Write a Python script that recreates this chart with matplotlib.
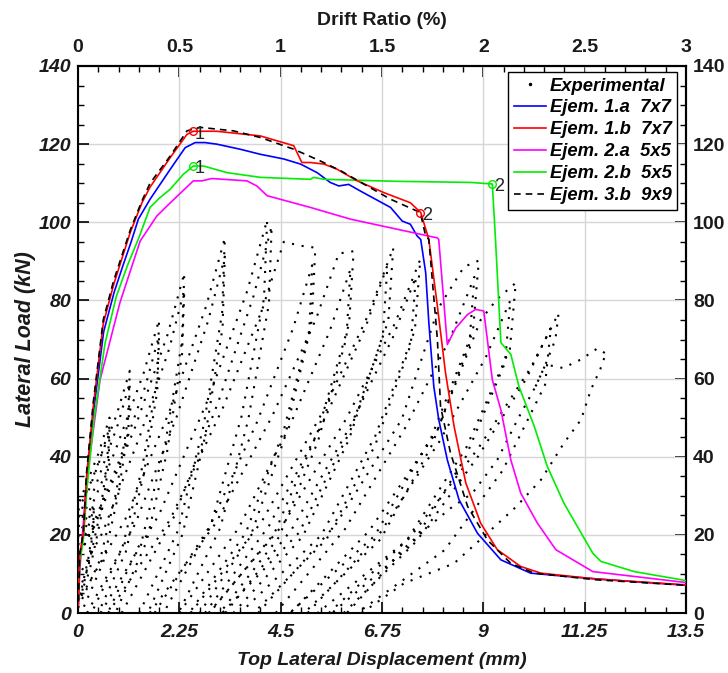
import numpy as np
import matplotlib
matplotlib.use("Agg")
import matplotlib.pyplot as plt
from matplotlib.ticker import MultipleLocator, FixedLocator
from matplotlib.lines import Line2D

nan = np.nan

# ---------------- numerical curves (displacement mm, load kN) ----------------
ej1a_x = [0, 0.04, 0.12, 0.2, 0.35, 0.57, 0.8, 1.0, 1.18, 1.34, 1.6, 2.05, 2.38, 2.6, 2.82, 3.08,
          3.6, 4.05, 4.57, 4.94, 5.31, 5.6, 5.79, 6.01, 6.27, 6.94, 7.2, 7.38, 7.53, 7.61, 7.72,
          7.79, 7.9, 8.01, 8.2, 8.46, 8.87, 9.39, 10.05, 11.0, 12.0, 13.5]
ej1a_y = [0, 14, 20, 34, 52, 72, 82, 89, 95, 100.8, 105.9, 113.6, 119.1, 120.4, 120.4, 120,
          118.7, 117.4, 116.2, 114.9, 112.7, 110.2, 109.3, 109.7, 108, 103.8, 100.3, 99.5, 96.5, 95.6, 87.1,
          74.3, 58, 49.5, 39.2, 29, 20.4, 13.6, 10.2, 9.2, 8.3, 7.1]

ej1b_x = [0, 0.04, 0.12, 0.19, 0.34, 0.56, 0.79, 1.16, 1.42, 1.6, 2.05, 2.42, 2.56, 3.08, 4.05,
          4.79, 4.97, 5.16, 5.46, 5.75, 6.2, 6.79, 7.38, 7.61, 7.79, 7.98, 8.16, 8.35, 8.61, 8.94,
          9.31, 9.83, 10.28, 11.5, 13.5]
ej1b_y = [0, 15, 20.5, 35, 53, 74, 84, 97.4, 105, 109, 116.6, 122.5, 123.3, 123.3, 122.1,
          119.6, 115.3, 115.3, 114.9, 113.6, 110.6, 107.6, 105, 102.5, 95.6, 78.5, 61.5, 47.8, 33.3, 23,
          16.2, 11.9, 10.2, 8.7, 7.2]

ej2a_x = [0, 0.04, 0.19, 0.49, 0.93, 1.38, 1.6, 1.75, 2.05, 2.56, 2.75, 2.97, 3.75, 3.97, 4.2,
          5.16, 6.05, 7.98, 8.01, 8.2, 8.39, 8.65, 8.83, 9.01, 9.2, 9.39, 9.61, 9.83, 10.2, 10.61,
          11.43, 13.5]
ej2a_y = [0, 11, 34, 59.7, 79.4, 95.2, 99, 101.6, 105, 110.6, 110.6, 111.2, 110.6, 109.3, 106.8,
          103.8, 100.8, 96, 95.6, 68.7, 73, 76.4, 77.7, 77.3, 59.7, 52, 39.2, 30.7, 23, 16.2,
          10.6, 7.8]

ej2b_x = [0, 0.04, 0.12, 0.2, 0.36, 0.6, 0.85, 1.1, 1.35, 1.6, 1.79, 2.05, 2.34, 2.56, 2.79,
          3.31, 4.05, 5.16, 5.23, 5.46, 7.0, 8.72, 9.2, 9.27, 9.39, 9.61, 9.79, 10.13, 10.42, 10.79,
          11.43, 11.61, 12.35, 13.5]
ej2b_y = [0, 13, 19, 32, 50, 69, 81, 89, 96, 103.8, 106, 108.5, 112.3, 114.4, 114.4,
          112.7, 111.5, 111, 111.5, 111, 110.5, 110.2, 109.8, 95.6, 69.2, 66.2, 58, 47.8, 37.5, 28.1,
          15.3, 13.2, 10.6, 8.3]

ej3b_x = [0, 0.04, 0.12, 0.19, 0.34, 0.56, 0.79, 1.16, 1.42, 1.6, 2.05, 2.42, 2.71, 3.45, 4.05,
          4.79, 5.38, 5.83, 6.42, 6.94, 7.6, 7.72, 7.79, 7.98, 8.05, 8.27, 8.65, 9.09, 9.61, 10.13,
          11.5, 13.5]
ej3b_y = [0, 15, 21, 36, 54, 75, 85, 98, 105.5, 110, 117, 123.4, 124.3, 123.4, 121.7,
          118.7, 115.7, 113.2, 109.3, 105.9, 102.5, 96.5, 95.6, 70, 52.9, 41, 27.3, 18.7, 12.7, 10.2,
          8.5, 7.1]

# marked points "1" and "2"
mark_red_x = [2.56, 7.6]
mark_red_y = [123.3, 102.5]
mark_green_x = [2.56, 9.2]
mark_green_y = [114.4, 109.8]
mark_red_lbl = ["1", "2"]
mark_green_lbl = ["1", "2"]

# ---------------- experimental cyclic loops (NaN separates cycles) ----------------
exp_x = [
    -0.85, -0.43, -0.07, 0.21, 0.35, 0.34, 0.23, 0.08, -0.15, nan,
    -0.73, -0.35, -0.03, 0.22, 0.35, 0.34, 0.24, 0.1, -0.1, nan,
    -1.3, -0.6, 0.0, 0.46, 0.7, 0.67, 0.48, 0.21, -0.2, nan,
    -1.1, -0.47, 0.07, 0.48, 0.7, 0.68, 0.5, 0.25, -0.11, nan,
    -1.25, -0.41, 0.31, 0.86, 1.15, 1.11, 0.85, 0.49, -0.05, nan,
    -1.01, -0.25, 0.39, 0.89, 1.15, 1.12, 0.88, 0.56, 0.07, nan,
    -1.0, -0.02, 0.82, 1.46, 1.8, 1.76, 1.43, 0.98, 0.3, nan,
    -0.72, 0.16, 0.92, 1.5, 1.8, 1.76, 1.46, 1.06, 0.45, nan,
    -0.74, 0.35, 1.28, 1.99, 2.36, 2.31, 1.94, 1.43, 0.66, nan,
    -0.43, 0.55, 1.38, 2.03, 2.36, 2.31, 1.98, 1.52, 0.83, nan,
    -0.14, 1.05, 2.07, 2.85, 3.26, 3.2, 2.79, 2.22, 1.36, nan,
    0.2, 1.27, 2.19, 2.89, 3.26, 3.21, 2.83, 2.32, 1.55, nan,
    0.5, 1.8, 2.91, 3.76, 4.2, 4.13, 3.63, 2.94, 1.9, nan,
    0.97, 2.14, 3.13, 3.9, 4.3, 4.24, 3.78, 3.16, 2.23, nan,
    0.67, 2.04, 3.21, 4.1, 4.57, 4.94, 5.27, 5.19, 4.57, 3.73, 2.47, nan,
    1.7, 2.93, 3.98, 4.78, 5.2, 5.13, 4.58, 3.83, 2.7, nan,
    1.59, 3.06, 4.32, 5.29, 5.79, 6.12, 6.02, 5.32, 4.36, 2.92, nan,
    2.25, 3.58, 4.72, 5.59, 6.05, 5.96, 5.33, 4.46, 3.15, nan,
    2.5, 4.08, 5.43, 6.46, 7.0, 6.89, 6.05, 4.91, 3.2, nan,
    2.82, 4.24, 5.45, 6.38, 6.87, 6.77, 6.02, 4.99, 3.45, nan,
    2.9, 4.55, 5.96, 7.04, 7.6, 7.48, 6.6, 5.4, 3.6, nan,
    3.27, 4.75, 6.02, 6.99, 7.5, 7.39, 6.6, 5.52, 3.9, nan,
    4.0, 5.72, 7.19, 8.0, 8.57, 8.9, 8.77, 7.85, 6.59, 4.7, nan,
    4.39, 5.93, 7.26, 8.27, 8.8, 8.69, 7.86, 6.72, 5.02, nan,
    4.72, 6.47, 7.97, 8.94, 9.31, 9.72, 9.59, 8.62, 7.3, 5.32, nan,
    5.1, 6.68, 8.03, 9.06, 9.6, 9.48, 8.61, 7.42, 5.64, nan,
    5.57, 7.36, 8.89, 10.06, 10.67, 10.6, 10.38, 10.16, 9.76, 9.31, 8.76, 8.27, 7.72, 7.16,
    6.6, 5.97, nan,
    5.9, 7.51, 8.89, 9.95, 10.5, 10.37, 9.43, 8.14, 6.2, nan,
    6.3, 7.24, 8.35, 9.05, 9.72, 10.28, 10.79, 11.17, 11.39, 11.6, 11.72, nan,
    10.16, 10.38, 10.77, 11.17, 11.53, 11.72,
]
exp_y = [
    0, 7, 15.4, 23, 28, 22.4, 14, 6.2, 0, nan,
    0, 6.7, 14.6, 21.8, 26.6, 21.3, 13.3, 5.9, 0, nan,
    0, 12.5, 27.5, 41, 50, 40, 25, 11, 0, nan,
    0, 11.9, 26.1, 39, 47.5, 38, 23.8, 10.5, 0, nan,
    0, 15.5, 34.1, 50.8, 62, 49.6, 31, 13.6, 0, nan,
    0, 14.8, 32.5, 48.4, 59, 47.2, 29.5, 13, 0, nan,
    0, 18.8, 41.3, 61.5, 75, 60, 37.5, 16.5, 0, nan,
    0, 17.8, 39.1, 58.2, 71, 56.8, 35.5, 15.6, 0, nan,
    0, 21.8, 47.9, 71.3, 87, 69.6, 43.5, 19.1, 0, nan,
    0, 20.7, 45.5, 67.8, 82.7, 66.2, 41.4, 18.2, 0, nan,
    0, 24, 52.8, 78.7, 96, 76.8, 48, 21.1, 0, nan,
    0, 22.8, 50.2, 74.8, 91.2, 73, 45.6, 20.1, 0, nan,
    0, 25.2, 55.3, 82.5, 100.6, 80.5, 50.3, 22.1, 0, nan,
    0, 24.8, 54.5, 81.2, 99, 79.2, 49.5, 21.8, 0, nan,
    0, 23.8, 52.3, 78, 95, 94, 93.5, 74.8, 46.8, 20.6, 0, nan,
    0, 22.3, 49, 73, 89, 71.2, 44.5, 19.6, 0, nan,
    0, 23, 50.6, 75.4, 92, 92.6, 74.1, 46.3, 20.4, 0, nan,
    0, 22, 48.4, 72.2, 88, 70.4, 44, 19.4, 0, nan,
    0, 23.4, 51.4, 76.7, 93.5, 74.8, 46.8, 20.6, 0, nan,
    0, 22.3, 49, 73, 89, 71.2, 44.5, 19.6, 0, nan,
    0, 22.6, 49.8, 74.2, 90.5, 72.4, 45.3, 19.9, 0, nan,
    0, 21.5, 47.3, 70.5, 86, 68.8, 43, 18.9, 0, nan,
    0, 22.6, 49.6, 78, 88.6, 90.2, 72.2, 45.1, 19.8, 0, nan,
    0, 21.5, 47.3, 70.5, 86, 68.8, 43, 18.9, 0, nan,
    0, 21.1, 46.5, 75, 80.4, 84.5, 67.6, 42.3, 18.6, 0, nan,
    0, 20, 44, 65.6, 80, 64, 40, 17.6, 0, nan,
    0, 19.2, 42.2, 62.9, 76.7, 70, 63.6, 58, 49.5, 39.2, 30.7, 26.8, 21.5, 15.7,
    8, 0, nan,
    0, 18.3, 40.2, 59.9, 73, 58.4, 36.5, 16.1, 0, nan,
    0, 7.6, 12.7, 20, 27.1, 34.1, 43.5, 49.5, 57.2, 62.5, 66.4, nan,
    58, 63.6, 62.7, 64.9, 67.7, 66.4,
]

# tick labels
x_ticks = [0, 2.25, 4.5, 6.75, 9, 11.25, 13.5]
x_tick_labels = ["0", "2.25", "4.5", "6.75", "9", "11.25", "13.5"]
y_ticks = [0, 20, 40, 60, 80, 100, 120, 140]
drift_ticks = [0, 0.5, 1, 1.5, 2, 2.5, 3]
drift_tick_labels = ["0", "0.5", "1", "1.5", "2", "2.5", "3"]

# ---------------- figure ----------------
plt.rcParams['font.family'] = ['Liberation Sans', 'DejaVu Sans']
txt = '#1a1a1a'
tick_fs = 14

fig = plt.figure(figsize=(7.28, 6.73), dpi=100)
ax = fig.add_axes([78 / 728, 1 - 613 / 673, (686 - 78) / 728, (613 - 66) / 673])

ax.set_xlim(0, 13.5)
ax.set_ylim(0, 140)

ax.grid(True, which='major', color='#d6d6d6', lw=1.0, zorder=0)
ax.set_axisbelow(True)

ax.plot(exp_x, exp_y, color='black', lw=1.5, linestyle=(0, (1, 3.7)),
        dash_capstyle='butt', zorder=2)

lw = 1.2
ax.plot(ej1a_x, ej1a_y, color='#0000ff', lw=lw, zorder=3)
ax.plot(ej1b_x, ej1b_y, color='#ff0000', lw=lw, zorder=4)
ax.plot(ej2a_x, ej2a_y, color='#ff00ff', lw=lw, zorder=3)
ax.plot(ej2b_x, ej2b_y, color='#00ee00', lw=lw, zorder=3)
ax.plot(ej3b_x, ej3b_y, color='black', lw=lw, linestyle=(0, (4, 3)), zorder=5)

ax.plot(mark_red_x, mark_red_y, 'o', ms=5.5, mfc='none', mec='#ff0000', mew=1.0, zorder=6)
ax.plot(mark_green_x, mark_green_y, 'o', ms=5.5, mfc='none', mec='#00ee00', mew=1.0, zorder=6)
for xs, ys, lbls in ((mark_red_x, mark_red_y, mark_red_lbl),
                     (mark_green_x, mark_green_y, mark_green_lbl)):
    for xv, yv, lb in zip(xs, ys, lbls):
        ax.annotate(lb, (xv, yv), xytext=(1, -2), textcoords='offset points',
                    fontsize=13, ha='left', va='center', color='#222222', zorder=7)

# legend
handles = [
    Line2D([], [], color='black', marker='.', ms=3, linestyle='none'),
    Line2D([], [], color='#0000ff', lw=lw),
    Line2D([], [], color='#ff0000', lw=lw),
    Line2D([], [], color='#ff00ff', lw=lw),
    Line2D([], [], color='#00ee00', lw=lw),
    Line2D([], [], color='black', lw=lw, linestyle=(0, (4, 3))),
]
labels = ["Experimental", "Ejem. 1.a  7x7", "Ejem. 1.b  7x7", "Ejem. 2.a  5x5",
          "Ejem. 2.b  5x5", "Ejem. 3.b  9x9"]
leg = ax.legend(handles, labels, loc='upper right', bbox_to_anchor=(0.985, 0.989),
                prop={'weight': 'bold', 'style': 'italic', 'size': 13.2},
                frameon=True, fancybox=False, edgecolor='black', framealpha=1,
                handlelength=1.75, handletextpad=0.2, borderpad=0.3, labelspacing=0.27,
                borderaxespad=0)
leg.get_frame().set_linewidth(1.0)

# axes styling
for s in ax.spines.values():
    s.set_linewidth(1.5)
ax.xaxis.set_major_locator(FixedLocator(x_ticks))
ax.set_xticklabels(x_tick_labels)
ax.xaxis.set_minor_locator(MultipleLocator(0.45))
ax.yaxis.set_major_locator(FixedLocator(y_ticks))
ax.yaxis.set_minor_locator(MultipleLocator(5))
ax.tick_params(which='major', direction='in', length=8, width=1.2, top=False, right=False,
               labelsize=tick_fs, labelcolor=txt)
ax.tick_params(axis='x', which='major', pad=8)
ax.tick_params(axis='y', which='major', pad=5)
ax.tick_params(which='minor', direction='in', length=4.5, width=1.0, top=False, right=False)
for lab in ax.get_xticklabels() + ax.get_yticklabels():
    lab.set_fontweight('bold')
    lab.set_fontstyle('italic')

ax.set_xlabel('Top Lateral Displacement (mm)', fontsize=14, fontweight='bold',
              fontstyle='italic', color=txt, labelpad=8)
ax.set_ylabel('Lateral Load (kN)', fontsize=15.5, fontweight='bold',
              fontstyle='italic', color=txt, labelpad=2)

# top drift axis
sec = ax.secondary_xaxis('top', functions=(lambda v: v / 4.5, lambda v: v * 4.5))
sec.xaxis.set_major_locator(FixedLocator(drift_ticks))
sec.set_xticklabels(drift_tick_labels)
sec.xaxis.set_minor_locator(MultipleLocator(0.1))
sec.tick_params(which='major', direction='in', length=8, width=1.2, labelsize=tick_fs,
                labelcolor=txt, pad=7.5)
sec.tick_params(which='minor', direction='in', length=4.5, width=1.0)
for lab in sec.get_xticklabels():
    lab.set_fontweight('bold')
sec.set_xlabel('Drift Ratio (%)', fontsize=14, fontweight='bold', color=txt, labelpad=10)
sec.spines['top'].set_linewidth(1.5)

# right load axis
secy = ax.secondary_yaxis('right')
secy.yaxis.set_major_locator(FixedLocator(y_ticks))
secy.yaxis.set_minor_locator(MultipleLocator(5))
secy.tick_params(which='major', direction='in', length=8, width=1.2, labelsize=tick_fs,
                 labelcolor=txt, pad=5)
secy.tick_params(which='minor', direction='in', length=4.5, width=1.0)
for lab in secy.get_yticklabels():
    lab.set_fontweight('bold')
secy.spines['right'].set_linewidth(1.5)

fig.savefig('out.png', dpi=100)
